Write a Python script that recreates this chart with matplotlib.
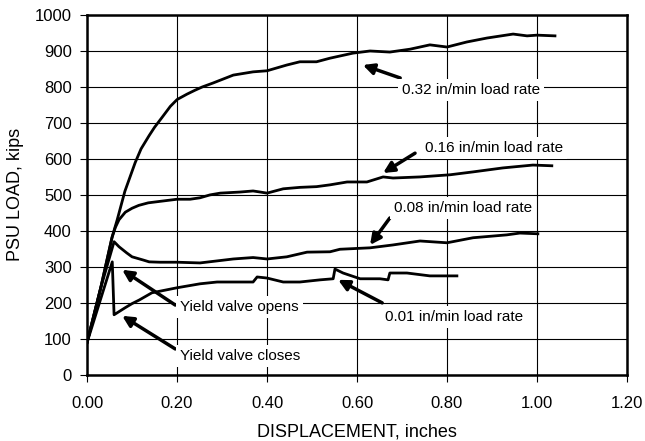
import matplotlib
matplotlib.use('Agg')
import matplotlib.pyplot as plt

plt.rcParams['font.family'] = ['Liberation Sans', 'DejaVu Sans']

# displacement (in) / load (kips)
x_032 = [0.0, 0.03, 0.055, 0.067, 0.084, 0.107, 0.12, 0.138, 0.15, 0.167, 0.185, 0.2,
         0.222, 0.24, 0.256, 0.28, 0.325, 0.369, 0.4, 0.444, 0.473, 0.51, 0.54, 0.591,
         0.629, 0.673, 0.718, 0.762, 0.8, 0.844, 0.889, 0.947, 0.978, 1.0, 1.04]
y_032 = [90, 240, 380, 431, 510, 590, 628, 665, 688, 716, 746, 765,
         780, 791, 800, 811, 833, 842, 845, 861, 870, 870, 880, 894,
         900, 897, 905, 917, 911, 925, 936, 947, 942, 944, 942]

x_016 = [0.0, 0.03, 0.056, 0.063, 0.071, 0.085, 0.1, 0.115, 0.136, 0.155, 0.2, 0.229,
         0.251, 0.273, 0.296, 0.34, 0.369, 0.385, 0.4, 0.436, 0.473, 0.51, 0.54, 0.578,
         0.622, 0.658, 0.68, 0.74, 0.807, 0.858, 0.924, 0.991, 1.033]
y_016 = [90, 240, 384, 410, 431, 452, 463, 471, 478, 481, 488, 488,
         492, 500, 505, 508, 511, 508, 505, 517, 521, 523, 528, 536,
         536, 550, 547, 550, 556, 564, 575, 583, 581]

x_008 = [0.0, 0.03, 0.06, 0.071, 0.088, 0.1, 0.125, 0.138, 0.162, 0.2, 0.251, 0.325,
         0.369, 0.4, 0.444, 0.489, 0.54, 0.562, 0.629, 0.68, 0.74, 0.8, 0.858, 0.933,
         0.962, 1.002]
y_008 = [90, 240, 370, 356, 339, 328, 319, 314, 313, 313, 311, 322,
         326, 322, 328, 341, 342, 349, 353, 361, 372, 367, 381, 389,
         394, 392]

x_001 = [0.0, 0.03, 0.056, 0.06, 0.084, 0.1, 0.116, 0.144, 0.2, 0.251, 0.289, 0.325,
         0.369, 0.378, 0.4, 0.436, 0.473, 0.518, 0.547, 0.551, 0.569, 0.607, 0.651,
         0.669, 0.673, 0.711, 0.762, 0.822]
y_001 = [90, 210, 314, 167, 186, 198, 208, 228, 242, 253, 258, 258,
         258, 272, 269, 258, 258, 264, 267, 294, 283, 267, 267,
         264, 283, 283, 275, 275]

x_ticks = [0.0, 0.2, 0.4, 0.6, 0.8, 1.0, 1.2]
y_ticks = [0, 100, 200, 300, 400, 500, 600, 700, 800, 900, 1000]

fig = plt.figure(figsize=(6.45, 4.41), dpi=100)
ax = fig.add_axes([0.135, 0.15, 0.837, 0.816])

for xs, ys in [(x_032, y_032), (x_016, y_016), (x_008, y_008), (x_001, y_001)]:
    ax.plot(xs, ys, color='black', lw=2.0, solid_joinstyle='round', zorder=3)

ax.set_xlim(0, 1.2)
ax.set_ylim(0, 1000)
ax.set_xticks(x_ticks)
ax.set_xticklabels(['%.2f' % v for v in x_ticks])
ax.set_yticks(y_ticks)
ax.grid(True, color='black', lw=0.8)
ax.set_axisbelow(True)
for s in ax.spines.values():
    s.set_linewidth(1.8)
ax.tick_params(direction='out', length=5, width=0.8, labelsize=12)
ax.tick_params(axis='x', pad=10)
ax.tick_params(axis='y', pad=6)

ax.set_xlabel('DISPLACEMENT, inches', fontsize=13, labelpad=9)
ax.set_ylabel('PSU LOAD, kips', fontsize=13, labelpad=8)

box = dict(facecolor='white', edgecolor='none', pad=3)
arrow = dict(arrowstyle='-|>', color='black', lw=2.5, mutation_scale=16,
             shrinkA=0, shrinkB=0)

notes = [
    ('0.32 in/min load rate', (0.70, 792), (0.696, 825), (0.613, 861)),
    ('0.16 in/min load rate', (0.751, 630), (0.729, 616), (0.658, 561)),
    ('0.08 in/min load rate', (0.682, 463), (0.673, 436), (0.629, 361)),
    ('0.01 in/min load rate', (0.662, 161), (0.656, 200), (0.558, 264)),
    ('Yield valve opens', (0.207, 189), (0.196, 194), (0.078, 292)),
    ('Yield valve closes', (0.207, 53), (0.196, 72), (0.078, 164)),
]
for label, tpos, tail, head in notes:
    ax.annotate('', xy=head, xytext=tail, arrowprops=arrow, zorder=4)
    ax.text(tpos[0], tpos[1], label, fontsize=11, ha='left', va='center',
            bbox=box, zorder=5)

fig.savefig('out.png', dpi=100)
